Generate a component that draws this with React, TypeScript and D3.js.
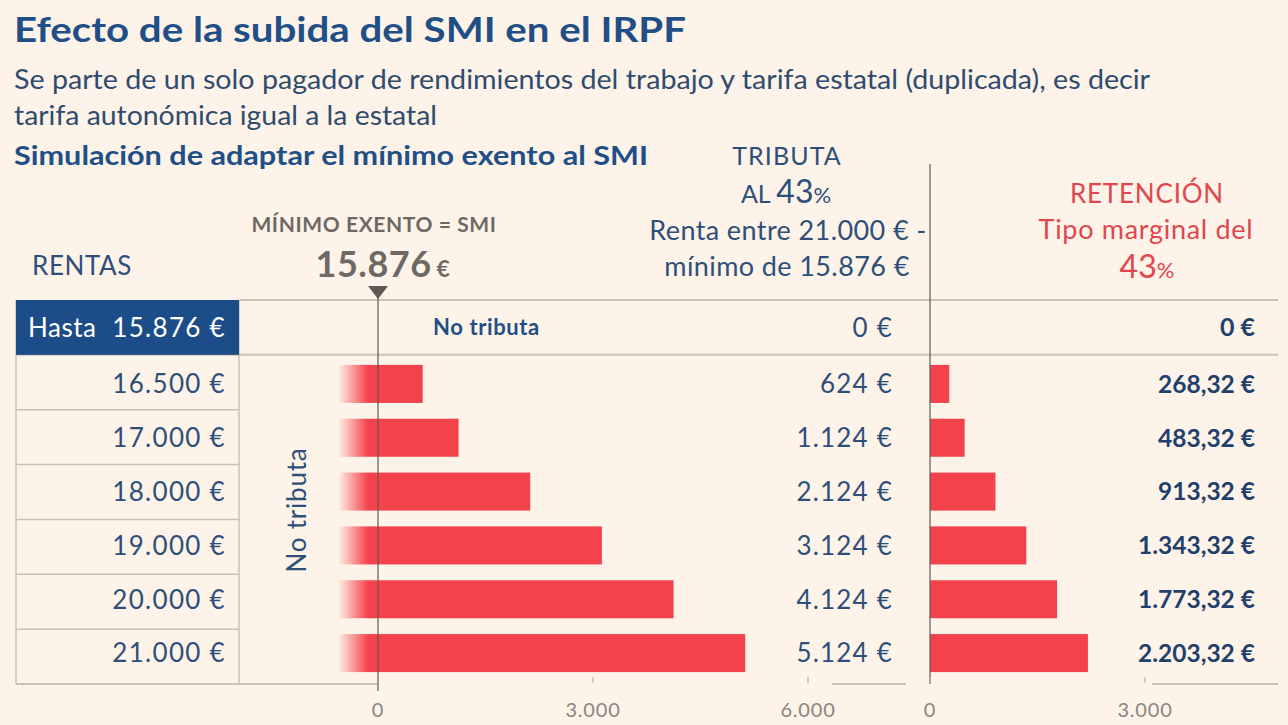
import React from "react";
import * as d3 from "d3";

const W = 1288;
const H = 725;

const title = "Efecto de la subida del SMI en el IRPF";
const subtitle1 = "Se parte de un solo pagador de rendimientos del trabajo y tarifa estatal (duplicada), es decir";
const subtitle2 = "tarifa autonómica igual a la estatal";
const subtitle3 = "Simulación de adaptar el mínimo exento al SMI";

const headerRow = "Hasta";
const headerAmount = "15.876 €";
const rentas = ["16.500 €", "17.000 €", "18.000 €", "19.000 €", "20.000 €", "21.000 €"];
const tributa = [624, 1124, 2124, 3124, 4124, 5124];
const retencion = [268.32, 483.32, 913.32, 1343.32, 1773.32, 2203.32];
const headerTributa = 0;
const headerRetencion = 0;
const ticksLeft = [0, 3000, 6000];
const ticksRight = [0, 3000];

const BG = "#fdf3e8";
const RED = "#f4424c";
const NAVY = "#1d4d88";
const BLUE_TXT = "#2d4f7a";
const DARK_BLUE = "#1f3f6c";
const RED_TXT = "#e2464d";
const GRAY = "#6e6965";
const LINE = "#cbc2b7";
const AXIS = "#5f5a56";
const FONT = "Lato, 'Open Sans', sans-serif";

const es = d3.formatLocale({ decimal: ",", thousands: ".", grouping: [3], currency: ["", " €"] });
const fmtInt = es.format(",.0f");
const fmtDec = es.format(",.2f");

export default function App() {
  const allRows = ["header", ...rentas];
  const yRow = d3.scaleBand<string>().domain(allRows).range([300, 684]);
  const yBar = d3.scaleBand<string>().domain(rentas).range([357, 680]).paddingInner(0.294).paddingOuter(0.147);
  const xL = d3.scaleLinear().domain([0, 6000]).range([378, 808]);
  const xR = d3.scaleLinear().domain([0, 3000]).range([930, 1145]);

  const rowLines = allRows.slice(1).map((r) => yRow(r)!);
  const bottom = yRow.range()[1];
  const hy = yRow("header")! + yRow.bandwidth() / 2;

  return (
    <svg width={W} height={H} style={{ position: "absolute", left: 0, top: 0, display: "block" }} fontFamily={FONT}>
      <defs>
        <linearGradient id="fade" gradientUnits="userSpaceOnUse" x1={xL(0) - 40} x2={xL(0) - 10} y1={0} y2={0}>
          <stop offset="0" stopColor={RED} stopOpacity={0} />
          <stop offset="1" stopColor={RED} stopOpacity={1} />
        </linearGradient>
      </defs>
      <rect width={W} height={H} fill={BG} />

      {/* titles */}
      <text x={14} y={42} fontSize={35} fontWeight={700} fill="#1f4f86" textLength={672} lengthAdjust="spacingAndGlyphs">{title}</text>
      <text x={14} y={89} fontSize={26} fill="#2f4b6e" textLength={1136} lengthAdjust="spacingAndGlyphs">{subtitle1}</text>
      <text x={14} y={125} fontSize={26} fill="#2f4b6e" textLength={423} lengthAdjust="spacingAndGlyphs">{subtitle2}</text>
      <text x={14} y={165} fontSize={26} fontWeight={700} fill="#1f4f86" textLength={634} lengthAdjust="spacingAndGlyphs">{subtitle3}</text>

      {/* TRIBUTA header */}
      <g fill={BLUE_TXT} textAnchor="middle">
        <text x={787} y={165} fontSize={25} letterSpacing={1.1}>TRIBUTA</text>
        <text x={786} y={203} fontSize={25}>
          AL <tspan fontSize={32}>43</tspan><tspan fontSize={22}>%</tspan>
        </text>
        <text x={788} y={240} fontSize={27} letterSpacing={0.4}>Renta entre 21.000 € -</text>
        <text x={787} y={276} fontSize={27} letterSpacing={0.4}>mínimo de 15.876 €</text>
      </g>

      {/* RETENCION header */}
      <g fill={RED_TXT} textAnchor="middle">
        <text x={1147} y={203} fontSize={26} letterSpacing={0.8}>RETENCIÓN</text>
        <text x={1146} y={239} fontSize={27} letterSpacing={0.7}>Tipo marginal del</text>
        <text x={1147} y={278} fontSize={32}>43<tspan fontSize={22}>%</tspan></text>
      </g>

      <text x={32} y={275} fontSize={26} letterSpacing={0.6} fill={BLUE_TXT}>RENTAS</text>

      {/* mínimo exento */}
      <text x={374} y={232} fontSize={21} fontWeight={700} letterSpacing={0.6} fill={GRAY} textAnchor="middle">MÍNIMO EXENTO = SMI</text>
      <text x={383} y={277} fontSize={36} fontWeight={700} fill={GRAY} textAnchor="middle" letterSpacing={0.5}>
        15.876<tspan fontSize={23} dx={5}>€</tspan>
      </text>

      {/* table lines */}
      <line x1={239} x2={1278} y1={300} y2={300} stroke={LINE} strokeWidth={2} />
      <line x1={16} x2={1278} y1={yRow("header")! + yRow.bandwidth()} y2={yRow("header")! + yRow.bandwidth()} stroke={LINE} strokeWidth={2} />
      {rowLines.slice(1).map((y, i) => (
        <line key={i} x1={16} x2={239} y1={y} y2={y} stroke={LINE} strokeWidth={1.5} />
      ))}
      <line x1={16} x2={xL(0)} y1={bottom} y2={bottom} stroke={LINE} strokeWidth={2} />
      <line x1={16} x2={16} y1={300} y2={bottom} stroke={LINE} strokeWidth={1.5} />
      <line x1={239} x2={239} y1={300} y2={bottom} stroke={LINE} strokeWidth={1.5} />
      <line x1={832} x2={906} y1={bottom} y2={bottom} stroke={LINE} strokeWidth={2} />
      <line x1={1152} x2={1278} y1={bottom} y2={bottom} stroke={LINE} strokeWidth={2} />

      {/* header row */}
      <rect x={16} y={yRow("header")!} width={223} height={yRow.bandwidth()} fill={NAVY} />
      <text x={28} y={hy} dy="0.36em" fontSize={26} letterSpacing={0.5} fill="#ffffff">{headerRow}</text>
      <text x={226} y={hy} dy="0.36em" fontSize={26} letterSpacing={1.3} fill="#ffffff" textAnchor="end">{headerAmount}</text>
      <text x={433} y={hy} dy="0.36em" fontSize={22} fontWeight={700} letterSpacing={0.6} fill="#1f4f86">No tributa</text>
      <text x={893} y={hy} dy="0.36em" fontSize={26} letterSpacing={1.2} fill={BLUE_TXT} textAnchor="end">{fmtInt(headerTributa) + " €"}</text>
      <text x={1255} y={hy} dy="0.36em" fontSize={25} fontWeight={700} fill={DARK_BLUE} textAnchor="end">{fmtInt(headerRetencion) + " €"}</text>

      {/* rows */}
      {rentas.map((r, i) => {
        const yb = yBar(r)!;
        const bh = yBar.bandwidth();
        const cy = yb + bh / 2;
        return (
          <g key={r}>
            <text x={226} y={cy} dy="0.36em" fontSize={26} letterSpacing={1.3} fill={BLUE_TXT} textAnchor="end">{r}</text>
            <rect x={xL(0) - 40} y={yb} width={30} height={bh} fill="url(#fade)" />
            <rect x={xL(0) - 10} y={yb} width={xL(tributa[i]) - xL(0) + 10} height={bh} fill={RED} />
            <rect x={xR(0)} y={yb} width={xR(retencion[i]) - xR(0)} height={bh} fill={RED} />
            <text x={893} y={cy} dy="0.36em" fontSize={26} letterSpacing={1.2} fill={BLUE_TXT} textAnchor="end">{fmtInt(tributa[i]) + " €"}</text>
            <text x={1255} y={cy} dy="0.36em" fontSize={24.5} fontWeight={700} fill={DARK_BLUE} textAnchor="end">{fmtDec(retencion[i]) + " €"}</text>
          </g>
        );
      })}

      {/* vertical No tributa */}
      <text transform="translate(297,510) rotate(-90)" textAnchor="middle" dy="0.36em" fontSize={26} letterSpacing={0.8} fill={BLUE_TXT}>No tributa</text>

      {/* axis lines */}
      <path d={`M${xL(0) - 10},286 L${xL(0) + 10},286 L${xL(0)},299 Z`} fill={AXIS} />
      <line x1={xL(0)} x2={xL(0)} y1={290} y2={bottom + 7} stroke={AXIS} strokeWidth={1.2} />
      <line x1={xR(0)} x2={xR(0)} y1={164} y2={bottom} stroke={AXIS} strokeWidth={1.2} />

      {ticksLeft.slice(1).map((t) => (
        <line key={"tl" + t} x1={xL(t)} x2={xL(t)} y1={bottom - 7} y2={bottom - 1} stroke="#b9b2aa" strokeWidth={1.2} />
      ))}
      {ticksRight.map((t) => (
        <line key={"tr" + t} x1={xR(t)} x2={xR(t)} y1={bottom - 7} y2={bottom - 1} stroke="#b9b2aa" strokeWidth={1.2} />
      ))}
      {ticksLeft.map((t) => (
        <text key={"ll" + t} x={xL(t)} y={717} fontSize={20} letterSpacing={0.8} fill="#8a857f" textAnchor="middle">{fmtInt(t)}</text>
      ))}
      {ticksRight.map((t) => (
        <text key={"lr" + t} x={xR(t)} y={717} fontSize={20} letterSpacing={0.8} fill="#8a857f" textAnchor="middle">{fmtInt(t)}</text>
      ))}
    </svg>
  );
}
